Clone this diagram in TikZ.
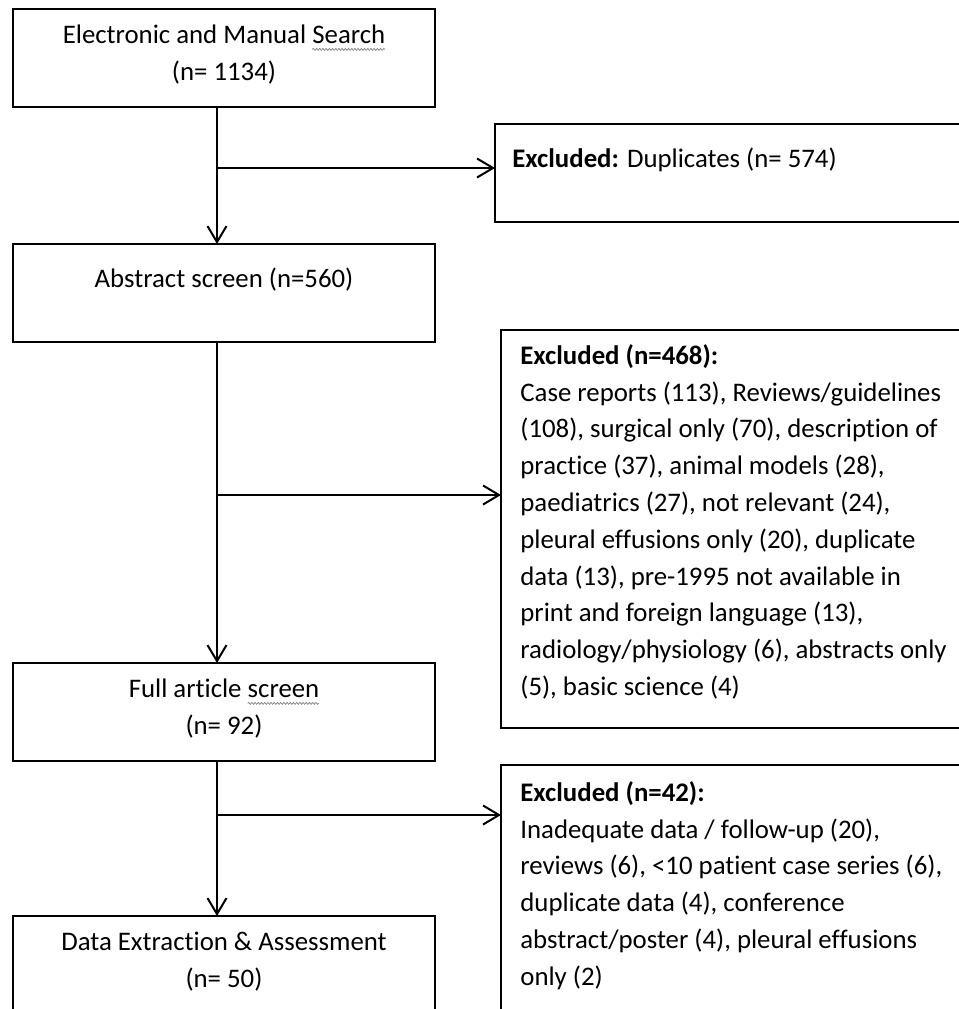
\documentclass[tikz,border=0pt]{standalone}
\usepackage{fontspec}
\setmainfont[Ligatures=NoCommon]{Carlito}
\usetikzlibrary{arrows.meta,positioning,decorations.pathmorphing}
\newsavebox{\wordbox}
\newcommand{\spellwave}[1]{\sbox\wordbox{#1}\rlap{\usebox\wordbox}\tikz[baseline=0pt]{%
  \useasboundingbox (0pt,0pt) rectangle (\wd\wordbox,-1pt);
  \draw[gray, line width=0.35pt, decorate, decoration={snake, amplitude=0.5pt, segment length=1.6pt}]
    (0pt,-3pt) -- (\wd\wordbox,-3pt);}}

\begin{document}
\begin{tikzpicture}[x=0.5pt,y=-0.5pt,
  font=\fontsize{13.4}{18.4}\selectfont,
  stepbox/.style={draw, line width=1pt, anchor=north west, inner sep=0pt, outer sep=0pt,
    minimum width=211pt, minimum height=49pt},
  exclbox/.style={draw, line width=1pt, anchor=north west, inner sep=0pt, outer sep=0pt,
    minimum width=237pt},
  midtext/.style={inner sep=0pt, align=center},
  sidetext/.style={inner sep=0pt, align=left},
  flow/.style={line width=1pt, -{Straight Barb[length=8pt,width=9.5pt]}}]
  \useasboundingbox (0,0) rectangle (959,1009);
  \clip (0,0) rectangle (959,1009);

  \node[stepbox] (search) at (13,9) {};
  \node[stepbox] (abstract) at (13,244) {};
  \node[stepbox] (fulltext) at (13,663) {};
  \node[stepbox, minimum height=60pt] (extract) at (13,916) {};
  \node[exclbox, minimum width=240pt, minimum height=49pt] (dupl) at (495,124) {};
  \node[exclbox, minimum height=199pt] (excl1) at (501,330) {};
  \node[exclbox, minimum height=140pt] (excl2) at (501,765) {};

  \node[midtext, below=4.1pt of search.north] {\strut Electronic and Manual \spellwave{Search}\\(n= 1134)};
  \node[midtext, below=8.6pt of abstract.north] {\strut Abstract screen (n=560)};
  \node[midtext, below=4.1pt of fulltext.north] {\strut Full article \spellwave{screen}\\(n= 92)};
  \node[midtext, below=4.1pt of extract.north] {\strut Data Extraction \& Assessment\\(n= 50)};
  \node[sidetext, below right=8.6pt and 8.5pt of dupl.north west] {\strut\textbf{Excluded:} Duplicates (n= 574)};
  \node[sidetext, below right=4.1pt and 9.5pt of excl1.north west] {\strut\textbf{Excluded (n=468):}\\
    Case reports (113), Reviews/guidelines\\
    (108), surgical only (70), description of\\
    practice (37), animal models (28),\\
    paediatrics (27), not relevant (24),\\
    pleural effusions only (20), duplicate\\
    data (13), pre-1995 not available in\\
    print and foreign language (13),\\
    radiology/physiology (6), abstracts only\\
    (5), basic science (4)};
  \node[sidetext, below right=5.1pt and 9.5pt of excl2.north west] {\strut\textbf{Excluded (n=42):}\\
    Inadequate data / follow-up (20),\\
    reviews (6), <10 patient case series (6),\\
    duplicate data (4), conference\\
    abstract/poster (4), pleural effusions\\
    only (2)};

  \coordinate (split1) at (217,168);
  \coordinate (split2) at (217,495);
  \coordinate (split3) at (217,815);
  \draw[flow] (search.south -| split1) -- (abstract.north -| split1);
  \draw[flow] (split1) -- (split1 -| dupl.west);
  \draw[flow] (abstract.south -| split2) -- (fulltext.north -| split2);
  \draw[flow] (split2) -- (split2 -| excl1.west);
  \draw[flow] (fulltext.south -| split3) -- (extract.north -| split3);
  \draw[flow] (split3) -- (split3 -| excl2.west);
\end{tikzpicture}
\end{document}
